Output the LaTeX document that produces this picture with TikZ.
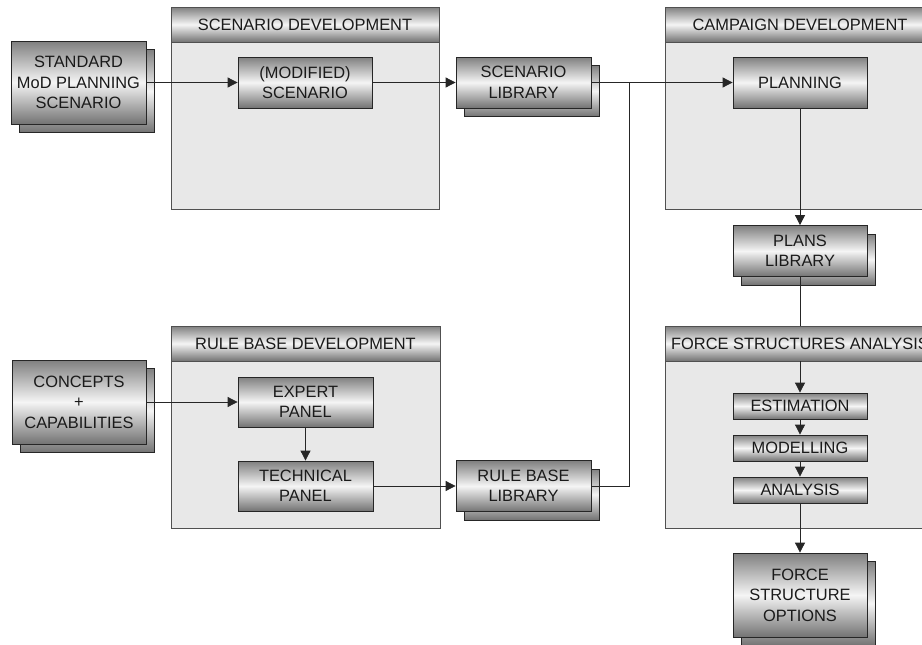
\documentclass[tikz,border=0pt]{standalone}
\usepackage{fontspec}
\setmainfont{Liberation Sans}
\usetikzlibrary{arrows.meta}
\definecolor{panelfill}{HTML}{E8E8E8}
\definecolor{panelline}{HTML}{505050}
\definecolor{inkcol}{HTML}{1A1A1A}
\tikzset{
  shadebox/.style={draw=black!85, line width=0.8pt, inner sep=0pt,
    top color=black!50, bottom color=black!55, middle color=black!4,
    text=inkcol, align=center, font=\fontsize{16.4}{20.5}\selectfont},
  panelbox/.style={draw=panelline, fill=panelfill, line width=0.9pt, inner sep=0pt},
  hdrbox/.style={shadebox, draw=panelline, line width=0.9pt},
  link/.style={draw=black!85, line width=0.8pt},
  arr/.style={link, -{Triangle[length=10pt,width=10pt]}}
}
% a box with a shadow copy of itself behind it: name, x, y, width, height, text
\newcommand\stackbox[6]{%
  \node[shadebox, minimum width=#4, minimum height=#5] (#1back) at (#2+8.5,#3+8.5) {};
  \node[shadebox, minimum width=#4, minimum height=#5] (#1) at (#2,#3) {#6};
}
\begin{document}
\begin{tikzpicture}[x=1pt,y=-1pt]
\useasboundingbox (0,0) rectangle (922,645);

% development panels with their title bars
\node[panelbox, minimum width=268, minimum height=202] (sdp) at (305,108) {};
\node[hdrbox, minimum width=268, minimum height=35] (sdh) at (305,24.5) {SCENARIO DEVELOPMENT};
\node[panelbox, minimum width=270, minimum height=202] (cdp) at (800,108) {};
\node[hdrbox, minimum width=270, minimum height=35] (cdh) at (800,24.5) {CAMPAIGN DEVELOPMENT};
\node[panelbox, minimum width=269, minimum height=202] (rbp) at (305.5,427) {};
\node[hdrbox, minimum width=269, minimum height=35] (rbh) at (305.5,343.5) {RULE BASE DEVELOPMENT};
\node[panelbox, minimum width=270, minimum height=202] (fsp) at (800,427) {};
\node[hdrbox, minimum width=270, minimum height=35] (fsh) at (800,343.5) {FORCE STRUCTURES ANALYSIS};

% inputs, libraries and outputs
\stackbox{std}{78.5}{82.5}{135}{83}{STANDARD\\MoD PLANNING\\SCENARIO}
\stackbox{con}{79}{402}{134}{84}{CONCEPTS\\+\\CAPABILITIES}
\stackbox{slib}{523.5}{82.5}{135}{51}{SCENARIO\\LIBRARY}
\stackbox{rlib}{523.5}{486}{135}{51}{RULE BASE\\LIBRARY}
\stackbox{plib}{800}{251}{134}{51}{PLANS\\LIBRARY}
\stackbox{opt}{800}{595}{134}{84}{FORCE\\STRUCTURE\\OPTIONS}

% process steps inside the panels
\node[shadebox, minimum width=134, minimum height=51] (mod) at (305,82.5) {(MODIFIED)\\SCENARIO};
\node[shadebox, minimum width=134, minimum height=51] (plan) at (800,82.5) {PLANNING};
\node[shadebox, minimum width=135, minimum height=50] (exp) at (305.5,402) {EXPERT\\PANEL};
\node[shadebox, minimum width=135, minimum height=50] (tec) at (305.5,486) {TECHNICAL\\PANEL};
\node[shadebox, minimum width=134, minimum height=26] (est) at (800,406) {ESTIMATION};
\node[shadebox, minimum width=134, minimum height=26] (mdl) at (800,448) {MODELLING};
\node[shadebox, minimum width=134, minimum height=26] (ana) at (800,490) {ANALYSIS};

% connectors
\coordinate (jn) at (629,82.5);
\draw[arr] (std.east) -- (mod.west);
\draw[arr] (mod.east) -- (slib.west);
\draw[arr] (slib.east) -- (plan.west);
\draw[link] (rlib.east) -| (jn);
\draw[arr] (con.east) -- (exp.west);
\draw[arr] (exp.south) -- (tec.north);
\draw[arr] (tec.east) -- (rlib.west);
\draw[arr] (plan.south) -- (plib.north);
\draw[link] (plib.south) -- (fsh.north);
\draw[arr] (fsh.south) -- (est.north);
\draw[arr] (est.south) -- (mdl.north);
\draw[arr] (mdl.south) -- (ana.north);
\draw[arr] (ana.south) -- (opt.north);
\end{tikzpicture}
\end{document}
